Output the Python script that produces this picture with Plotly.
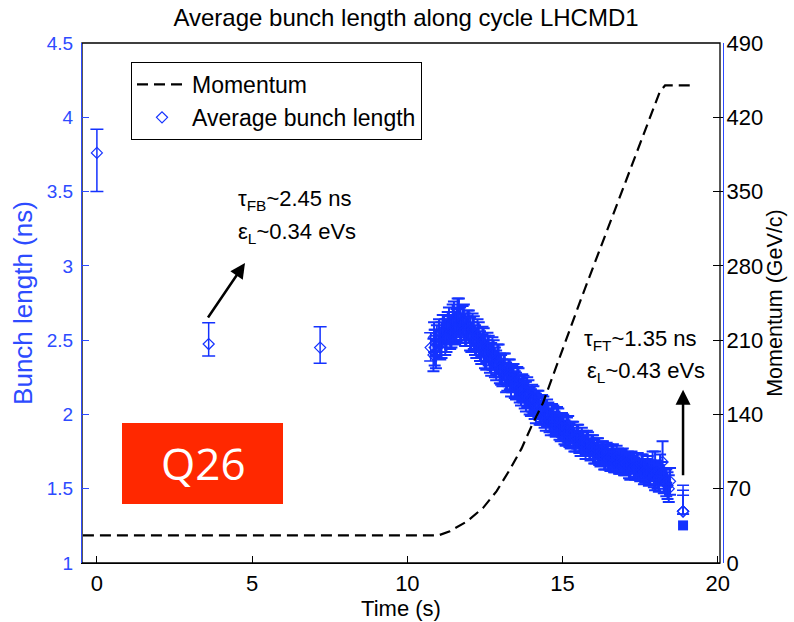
import plotly.graph_objects as go

# ---------------- data ----------------
# Momentum ramp (right axis, GeV/c)
mom_t = [-0.45, 11.0, 11.37, 11.91, 12.44, 12.87, 13.30, 13.68, 14.0, 14.37, 15.61, 17.81, 18.13, 18.3, 19.28]
mom_p = [26, 26, 30, 39, 52, 67.5, 88, 108, 129, 151, 250, 418, 444, 450, 450]

# isolated bunch-length measurements (ns)
iso_t = [0.0, 3.6, 7.19, 10.75]
iso_v = [3.76, 2.474, 2.45, 2.45]
iso_up = [0.16, 0.143, 0.14, 0.10]
iso_dn = [0.26, 0.081, 0.106, 0.09]

# dense bunch-length measurements along the ramp (ns), first set
dense_t = [10.84, 10.86, 10.88, 10.90, 10.92, 10.95,
           11.02, 11.10, 11.18, 11.26, 11.34, 11.42, 11.50, 11.58, 11.66, 11.74, 11.82, 11.90, 11.98,
           12.06, 12.14, 12.22, 12.30, 12.38, 12.46, 12.54, 12.62, 12.70, 12.78, 12.86, 12.94,
           13.02, 13.10, 13.18, 13.26, 13.34, 13.42, 13.50, 13.58, 13.66, 13.74, 13.82, 13.90, 13.98,
           14.06, 14.14, 14.22, 14.30, 14.38, 14.46, 14.54, 14.62, 14.70, 14.78, 14.86, 14.94,
           15.02, 15.10, 15.18, 15.26, 15.34, 15.42, 15.50, 15.58, 15.66, 15.74, 15.82, 15.90, 15.98,
           16.06, 16.14, 16.22, 16.30, 16.38, 16.46, 16.54, 16.62, 16.70, 16.78, 16.86, 16.94,
           17.02, 17.10, 17.18, 17.26, 17.34, 17.42, 17.50, 17.58, 17.66, 17.74, 17.82, 17.90, 17.98,
           18.06, 18.14, 18.22, 18.30, 18.38, 18.46]
dense_v = [2.40, 2.52, 2.45, 2.48, 2.42, 2.50,
           2.53, 2.50, 2.57, 2.53, 2.60, 2.56, 2.63, 2.60, 2.65, 2.58, 2.62, 2.56, 2.59,
           2.52, 2.55, 2.48, 2.51, 2.44, 2.47, 2.40, 2.43, 2.37, 2.40, 2.33, 2.36,
           2.30, 2.32, 2.25, 2.28, 2.22, 2.25, 2.19, 2.21, 2.15, 2.17, 2.12, 2.14, 2.08,
           2.10, 2.04, 2.07, 2.01, 2.03, 1.98, 2.00, 1.95, 1.97, 1.93, 1.95, 1.90,
           1.92, 1.87, 1.90, 1.85, 1.87, 1.82, 1.85, 1.80, 1.82, 1.78, 1.80, 1.76, 1.78,
           1.74, 1.76, 1.72, 1.75, 1.71, 1.73, 1.69, 1.72, 1.68, 1.70, 1.67, 1.69,
           1.66, 1.68, 1.64, 1.67, 1.63, 1.66, 1.62, 1.65, 1.61, 1.64, 1.60, 1.66, 1.62,
           1.58, 1.64, 1.68, 1.56, 1.52, 1.55]
dense_err = [0.11, 0.10, 0.12, 0.09, 0.11, 0.10,
             0.11, 0.12, 0.10, 0.11, 0.12, 0.11, 0.13, 0.11, 0.13, 0.10, 0.12, 0.10, 0.11,
             0.10, 0.11, 0.10, 0.11, 0.10, 0.11, 0.10, 0.10, 0.11, 0.10, 0.10, 0.11,
             0.10, 0.09, 0.10, 0.09, 0.10, 0.09, 0.09, 0.10, 0.09, 0.09, 0.10, 0.09, 0.09,
             0.09, 0.10, 0.09, 0.08, 0.09, 0.09, 0.08, 0.09, 0.09, 0.08, 0.09, 0.08,
             0.08, 0.08, 0.09, 0.08, 0.08, 0.07, 0.08, 0.08, 0.07, 0.08, 0.08, 0.07, 0.08,
             0.07, 0.08, 0.07, 0.07, 0.08, 0.07, 0.07, 0.08, 0.07, 0.07, 0.07, 0.08,
             0.07, 0.07, 0.08, 0.07, 0.07, 0.08, 0.07, 0.08, 0.07, 0.08, 0.07, 0.09, 0.13,
             0.08, 0.09, 0.14, 0.08, 0.09, 0.09]

# dense bunch-length measurements along the ramp (ns), interleaved second set
dense2_t = [11.06, 11.14, 11.22, 11.30, 11.38, 11.46, 11.54, 11.62, 11.70, 11.78, 11.86, 11.94,
            12.02, 12.10, 12.18, 12.26, 12.34, 12.42, 12.50, 12.58, 12.66, 12.74, 12.82, 12.90, 12.98,
            13.06, 13.14, 13.22, 13.30, 13.38, 13.46, 13.54, 13.62, 13.70, 13.78, 13.86, 13.94,
            14.02, 14.10, 14.18, 14.26, 14.34, 14.42, 14.50, 14.58, 14.66, 14.74, 14.82, 14.90, 14.98,
            15.06, 15.14, 15.22, 15.30, 15.38, 15.46, 15.54, 15.62, 15.70, 15.78, 15.86, 15.94,
            16.02, 16.10, 16.18, 16.26, 16.34, 16.42, 16.50, 16.58, 16.66, 16.74, 16.82, 16.90, 16.98,
            17.06, 17.14, 17.22, 17.30, 17.38, 17.46, 17.54, 17.62, 17.70, 17.78, 17.86, 17.94,
            18.02, 18.10, 18.18, 18.26, 18.34, 18.42]
dense2_v = [2.47, 2.56, 2.52, 2.59, 2.55, 2.62, 2.58, 2.66, 2.61, 2.63, 2.57, 2.60,
            2.54, 2.57, 2.50, 2.53, 2.46, 2.49, 2.42, 2.45, 2.38, 2.41, 2.35, 2.37, 2.31,
            2.28, 2.31, 2.25, 2.27, 2.24, 2.20, 2.22, 2.17, 2.18, 2.13, 2.15, 2.09,
            2.11, 2.06, 2.08, 2.02, 2.04, 1.99, 2.01, 1.96, 1.98, 1.94, 1.96, 1.91, 1.93,
            1.88, 1.90, 1.86, 1.88, 1.83, 1.85, 1.81, 1.83, 1.79, 1.81, 1.77, 1.79,
            1.75, 1.77, 1.73, 1.75, 1.71, 1.74, 1.70, 1.72, 1.68, 1.71, 1.67, 1.69, 1.66,
            1.67, 1.65, 1.68, 1.64, 1.66, 1.63, 1.66, 1.61, 1.63, 1.60, 1.62, 1.59,
            1.61, 1.57, 1.60, 1.55, 1.54, 1.50]
dense2_err = [0.10, 0.11, 0.12, 0.10, 0.11, 0.12, 0.11, 0.12, 0.11, 0.10, 0.11, 0.10,
              0.11, 0.11, 0.10, 0.11, 0.10, 0.10, 0.11, 0.10, 0.10, 0.11, 0.10, 0.10, 0.10,
              0.09, 0.10, 0.09, 0.10, 0.09, 0.09, 0.10, 0.09, 0.09, 0.09, 0.10, 0.09,
              0.09, 0.09, 0.08, 0.09, 0.09, 0.08, 0.09, 0.08, 0.09, 0.08, 0.09, 0.08, 0.08,
              0.08, 0.08, 0.08, 0.07, 0.08, 0.08, 0.07, 0.08, 0.07, 0.08, 0.07, 0.07,
              0.08, 0.07, 0.07, 0.07, 0.08, 0.07, 0.07, 0.07, 0.07, 0.08, 0.07, 0.07, 0.07,
              0.07, 0.08, 0.07, 0.07, 0.08, 0.07, 0.07, 0.08, 0.07, 0.08, 0.07, 0.08,
              0.08, 0.09, 0.08, 0.08, 0.09, 0.09]

# final measurement after the ramp (ns)
end_t = [18.88, 18.88, 18.88]
end_v = [1.348, 1.348, 1.348]
end_up = [0.176, 0.142, 0.108]
end_dn = [0.02, 0.02, 0.02]
sq_t = [18.88]
sq_v = [1.253]

# axis ticks
x_ticks = [0, 5, 10, 15, 20]
y_ticks = [1, 1.5, 2, 2.5, 3, 3.5, 4, 4.5]
y_ticktext = ['1', '1.5', '2', '2.5', '3', '3.5', '4', '4.5']
y2_ticks = [0, 70, 140, 210, 280, 350, 420, 490]

# ---------------- styling ----------------
BLUE = 'rgb(20,50,255)'
AXBLUE = 'rgb(45,75,255)'
FONT = 'Liberation Sans, Arial, sans-serif'
MARK = dict(symbol='diamond-open', size=8.5, color=BLUE, line=dict(width=1.2, color=BLUE))

fig = go.Figure()

fig.add_trace(go.Scatter(
    x=mom_t, y=mom_p, yaxis='y2', mode='lines', name='Momentum',
    line=dict(color='black', width=2.2, dash='11px,6px')))

fig.add_trace(go.Scatter(
    x=iso_t, y=iso_v, mode='markers', name='Average bunch length', marker=MARK,
    error_y=dict(type='data', symmetric=False, array=iso_up, arrayminus=iso_dn,
                 color=BLUE, thickness=1.5, width=6.5)))

fig.add_trace(go.Scatter(
    x=dense_t, y=dense_v, mode='markers', showlegend=False, marker=MARK,
    error_y=dict(type='data', array=dense_err, color=BLUE, thickness=2.0, width=6)))

fig.add_trace(go.Scatter(
    x=dense2_t, y=dense2_v, mode='markers', showlegend=False, marker=MARK,
    error_y=dict(type='data', array=dense2_err, color=BLUE, thickness=2.0, width=6)))

fig.add_trace(go.Scatter(
    x=end_t, y=end_v, mode='markers', showlegend=False, marker=MARK,
    error_y=dict(type='data', symmetric=False, array=end_up, arrayminus=end_dn,
                 color=BLUE, thickness=1.5, width=6)))

fig.add_trace(go.Scatter(
    x=sq_t, y=sq_v, mode='markers', showlegend=False,
    marker=dict(symbol='square', size=10, color=BLUE)))

TXT = dict(family=FONT, size=22, color='black')
annotations = [
    # arrows
    dict(x=4.77, y=3.019, xref='x', yref='y', ax=-38, ay=56, text='', showarrow=True,
         arrowhead=2, arrowsize=1.2, arrowwidth=2.5, arrowcolor='black'),
    dict(x=18.88, y=2.166, xref='x', yref='y', ax=0, ay=87, text='', showarrow=True,
         arrowhead=2, arrowsize=1.2, arrowwidth=2.5, arrowcolor='black'),
    # texts
    dict(x=4.48, y=3.445, xref='x', yref='y', xanchor='left', yanchor='middle', showarrow=False,
         text='τ<sub>FB</sub>~2.45 ns', font=TXT),
    dict(x=4.48, y=3.224, xref='x', yref='y', xanchor='left', yanchor='middle', showarrow=False,
         text='ε<sub>L</sub>~0.34 eVs', font=TXT),
    dict(x=15.64, y=2.503, xref='x', yref='y', xanchor='left', yanchor='middle', showarrow=False,
         text='τ<sub>FT</sub>~1.35 ns', font=TXT),
    dict(x=15.72, y=2.284, xref='x', yref='y', xanchor='left', yanchor='middle', showarrow=False,
         text='ε<sub>L</sub>~0.43 eVs', font=TXT),
    # Q26 label
    dict(x=(203 - 82) / 641, y=(563 - 463) / 520, xref='paper', yref='paper',
         xanchor='center', yanchor='middle', showarrow=False, text='Q26',
         font=dict(family='Open Sans, sans-serif', size=44, color='white')),
]

shapes = [
    dict(type='rect', xref='x domain', yref='y domain', x0=0, x1=1, y0=0, y1=1,
         line=dict(color='black', width=1.3), layer='below'),
    dict(type='rect', xref='paper', yref='paper',
         x0=(122 - 82) / 641, x1=(283 - 82) / 641, y0=(563 - 504) / 520, y1=(563 - 423) / 520,
         fillcolor='rgb(255,40,0)', line=dict(width=0), layer='above'),
]

fig.update_layout(
    width=794, height=622,
    margin=dict(l=82, r=71, t=43, b=59),
    plot_bgcolor='white', paper_bgcolor='white',
    font=dict(family=FONT, color='black'),
    title=dict(text='Average bunch length along cycle LHCMD1', x=406 / 794, xanchor='center',
               y=1 - 17.5 / 622, yanchor='middle', font=dict(family=FONT, size=24, color='black')),
    xaxis=dict(domain=[0, 638 / 641], range=[-0.48, 20.07], tickvals=x_ticks, automargin=False,
               ticks='inside', ticklen=7, tickcolor='black', tickwidth=1,
               showline=True, linecolor='black', linewidth=1.3, showgrid=False, zeroline=False,
               tickfont=dict(size=22, color='black'),
               title=dict(text='Time (s)', font=dict(size=22, color='black'), standoff=4)),
    yaxis=dict(range=[1, 4.5], tickvals=y_ticks, ticktext=y_ticktext, automargin=False,
               ticks='inside', ticklen=7, tickcolor=AXBLUE, tickwidth=1,
               showline=True, linecolor=AXBLUE, linewidth=1.3, showgrid=False, zeroline=False,
               tickfont=dict(size=19, color=AXBLUE), ticklabelstandoff=4,
               title=dict(text='Bunch length (ns)', font=dict(size=26, color=AXBLUE), standoff=6)),
    yaxis2=dict(overlaying='y', side='right', anchor='free', position=1.0, range=[0, 490],
                automargin=False,
                tickvals=y2_ticks, ticks='inside', ticklen=10, tickcolor='black', tickwidth=1,
                showline=True, linecolor=AXBLUE, linewidth=1.3, showgrid=False, zeroline=False,
                tickfont=dict(size=22, color='black'), ticklabelstandoff=-2,
                title=dict(text='Momentum (GeV/c)', font=dict(size=21.5, color='black'), standoff=4)),
    legend=dict(x=(131 - 82) / 641, y=(563 - 62) / 520, xanchor='left', yanchor='top',
                bgcolor='white', bordercolor='black', borderwidth=1,
                font=dict(family=FONT, size=23, color='black'), itemwidth=50),
    annotations=annotations,
    shapes=shapes,
)

fig.write_html('out.html')
